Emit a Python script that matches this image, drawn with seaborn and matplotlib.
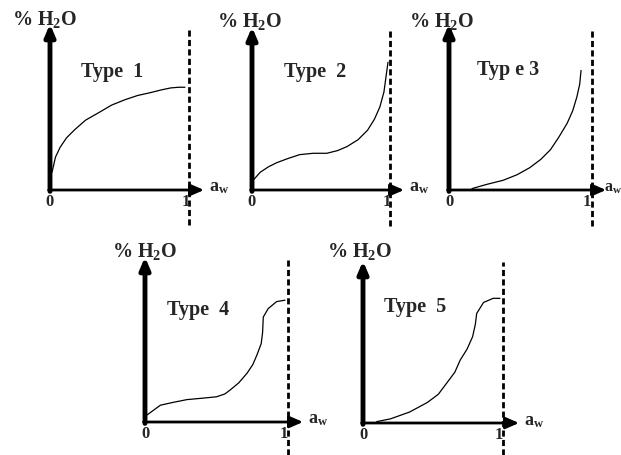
import numpy as np
import matplotlib
matplotlib.use('Agg')
import matplotlib.pyplot as plt
import seaborn as sns

sns.set_style("white")
plt.rcParams['font.family'] = ['Liberation Serif', 'DejaVu Serif']
plt.rcParams['font.weight'] = 'bold'
plt.rcParams['mathtext.fontset'] = 'custom'
plt.rcParams['mathtext.rm'] = 'Liberation Serif:bold'
plt.rcParams['mathtext.it'] = 'Liberation Serif:bold'
plt.rcParams['mathtext.bf'] = 'Liberation Serif:bold'

# isotherm curves, x = water activity, y = moisture (same unit scale as x)
type1_x = [0.015, 0.04, 0.073, 0.12, 0.18, 0.26, 0.365, 0.45, 0.55, 0.64, 0.73, 0.81, 0.88, 0.94, 0.985]
type1_y = [0.13, 0.24, 0.31, 0.38, 0.44, 0.51, 0.57, 0.62, 0.66, 0.69, 0.71, 0.73, 0.745, 0.75, 0.75]

type2_x = [0.007, 0.06, 0.12, 0.18, 0.26, 0.35, 0.45, 0.55, 0.63, 0.70, 0.78, 0.85, 0.90, 0.94, 0.97, 1.0]
type2_y = [0.07, 0.13, 0.17, 0.20, 0.23, 0.26, 0.27, 0.27, 0.29, 0.32, 0.37, 0.44, 0.52, 0.61, 0.72, 0.94]

type3_x = [0.165, 0.27, 0.39, 0.49, 0.58, 0.66, 0.73, 0.79, 0.85, 0.89, 0.92, 0.94, 0.95]
type3_y = [0.01, 0.04, 0.07, 0.11, 0.16, 0.22, 0.29, 0.38, 0.48, 0.57, 0.67, 0.76, 0.86]

type4_x = [0.014, 0.11, 0.2, 0.3, 0.41, 0.51, 0.57, 0.61, 0.67, 0.73, 0.77, 0.8, 0.83, 0.84, 0.845, 0.88, 0.94, 1.0]
type4_y = [0.05, 0.12, 0.14, 0.16, 0.17, 0.18, 0.20, 0.23, 0.28, 0.35, 0.41, 0.48, 0.56, 0.64, 0.75, 0.81, 0.86, 0.87]

type5_x = [0.1, 0.2, 0.34, 0.47, 0.55, 0.61, 0.67, 0.71, 0.76, 0.8, 0.82, 0.83, 0.88, 0.95, 1.0]
type5_y = [0.01, 0.03, 0.08, 0.15, 0.21, 0.29, 0.37, 0.46, 0.54, 0.63, 0.72, 0.8, 0.88, 0.91, 0.91]

type_labels = ["Type  1", "Type  2", "Typ e 3", "Type  4", "Type  5"]
curves = [(type1_x, type1_y), (type2_x, type2_y), (type3_x, type3_y),
          (type4_x, type4_y), (type5_x, type5_y)]

W, H = 621, 455
# panel layout in pixels: origin x, origin y, unit, y-arrow top, x-arrow tip, dash x, dash top, dash bottom
layout = [
    (50, 190, 137, 24, 204, 189, 30, 225),
    (252, 190, 136, 27, 404, 390, 30, 226),
    (449, 190, 139, 24, 606, 592, 30, 226),
    (145, 422, 140, 257, 303, 288, 260, 455),
    (363, 423, 137, 261, 519, 503, 262, 455),
]
# text positions in pixels (left x, center y)
ylab_pos = [(12, 20), (217, 22), (409, 22), (112, 252), (327, 252)]
type_pos = [(81, 72), (284, 72), (477, 70), (167, 310), (384, 307)]
aw_offset = [5, 5, -2, 5, 5]
aw_size = [13, 13, 11.5, 13, 13]

fig = plt.figure(figsize=(W / 100, H / 100), dpi=100)

for i, ((cx, cy), (ox, oy, u, ytop, xtip, dx, dtop, dbot)) in enumerate(zip(curves, layout)):
    L, R, T, B = ox - 45, min(ox + u + 40, W), max(ytop - 15, 0), min(oy + 40, H)
    ax = fig.add_axes([L / W, 1 - B / H, (R - L) / W, (B - T) / H])
    ax.set_xlim((L - ox) / u, (R - ox) / u)
    ax.set_ylim((oy - B) / u, (oy - T) / u)
    ax.axis('off')

    sns.lineplot(x=cx, y=cy, ax=ax, color='black', lw=0.9, sort=False, estimator=None)

    # axes arrows
    ax.annotate('', xy=(0, (oy - ytop) / u), xytext=(0, -0.01),
                arrowprops=dict(arrowstyle='-|>,head_length=0.7,head_width=0.3',
                                lw=3.5, color='black', shrinkA=0, shrinkB=0))
    ax.annotate('', xy=((xtip - ox) / u, 0), xytext=(-0.01, 0),
                arrowprops=dict(arrowstyle='-|>,head_length=0.8,head_width=0.35',
                                lw=2, color='black', shrinkA=0, shrinkB=0))
    # saturation line at aw = 1
    ax.plot([(dx - ox) / u] * 2, [(oy - dbot) / u, (oy - dtop) / u], color='black',
            lw=2, ls=(0, (2.2, 1.2)), clip_on=False)

    ax.annotate('0', xy=(0, 0), xytext=(0, -12), textcoords='offset pixels',
                ha='center', va='center', fontsize=12, fontweight='bold')
    ax.annotate('1', xy=(1, 0), xytext=(-1, -12), textcoords='offset pixels',
                ha='center', va='center', fontsize=12, fontweight='bold')
    ax.annotate('a$_{w}$', xy=((xtip - ox) / u, 0), xytext=(aw_offset[i], 2),
                textcoords='offset pixels', ha='left', va='center',
                fontsize=aw_size[i], fontweight='bold')

    fig.text(ylab_pos[i][0] / W, 1 - ylab_pos[i][1] / H, '% H$_{2}$O',
             ha='left', va='center', fontsize=14.5, fontweight='bold')
    fig.text(type_pos[i][0] / W, 1 - type_pos[i][1] / H, type_labels[i],
             ha='left', va='center', fontsize=14.5, fontweight='bold')

plt.savefig('out.png', dpi=100)
